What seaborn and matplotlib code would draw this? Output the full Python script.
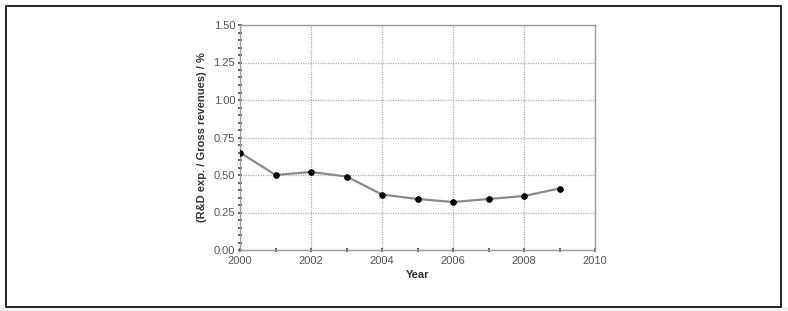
import matplotlib
matplotlib.use("Agg")
import matplotlib.pyplot as plt
import seaborn as sns
import pandas as pd
from matplotlib.ticker import MultipleLocator
from matplotlib.patches import Rectangle

years = [2000, 2001, 2002, 2003, 2004, 2005, 2006, 2007, 2008, 2009]
ratio = [0.65, 0.50, 0.52, 0.49, 0.37, 0.34, 0.32, 0.34, 0.36, 0.41]

df = pd.DataFrame({"Year": years, "ratio": ratio})

sns.set_style("white")
plt.rcParams['font.family'] = ['Liberation Sans', 'DejaVu Sans']

fig = plt.figure(figsize=(7.88, 3.11), dpi=100)
ax = fig.add_axes([240/788, 1-250/311, 355/788, 225/311])

sns.lineplot(data=df, x="Year", y="ratio", ax=ax, color="#8a8a8a", linewidth=1.6,
             marker="o", markersize=4, markerfacecolor="black",
             markeredgecolor="black", zorder=3)

ax.set_xlim(2000, 2010)
ax.set_ylim(0, 1.5)
ax.xaxis.set_major_locator(MultipleLocator(2))
ax.xaxis.set_minor_locator(MultipleLocator(1))
ax.yaxis.set_major_locator(MultipleLocator(0.25))
ax.yaxis.set_minor_locator(MultipleLocator(0.05))
ax.yaxis.set_major_formatter(matplotlib.ticker.FormatStrFormatter('%.2f'))

ax.grid(True, which="major", linestyle=(0, (1, 1)), color="#b0b0b0", linewidth=0.9)
for s in ax.spines.values():
    s.set_visible(True)
    s.set_color("#9a9a9a")
    s.set_linewidth(1.0)

ax.tick_params(which="both", direction="inout", colors="#555555", labelsize=8,
               labelcolor="#555555", bottom=True, left=True, top=False, right=False)
ax.tick_params(which="major", length=3, width=1.3, pad=2)
ax.tick_params(which="minor", length=2.5, width=1.3)
ax.tick_params(axis="x", pad=3)

ax.set_xlabel("Year", fontsize=8, fontweight="bold", color="#333333", labelpad=3)
ax.set_ylabel("(R&D exp. / Gross revenues) / %", fontsize=8, fontweight="bold",
              color="#333333", labelpad=5)

# outer frame
fig.patches.append(Rectangle((0, 0), 1, 4/311, transform=fig.transFigure,
                             facecolor="#f2f2f2", edgecolor="none", zorder=0))
fig.patches.append(Rectangle((5.5/788, 4/311), (781-5.5)/788, (305-4)/311,
                             transform=fig.transFigure, facecolor="none",
                             edgecolor="black", linewidth=1.2, zorder=5))

fig.savefig("out.png", dpi=100)
